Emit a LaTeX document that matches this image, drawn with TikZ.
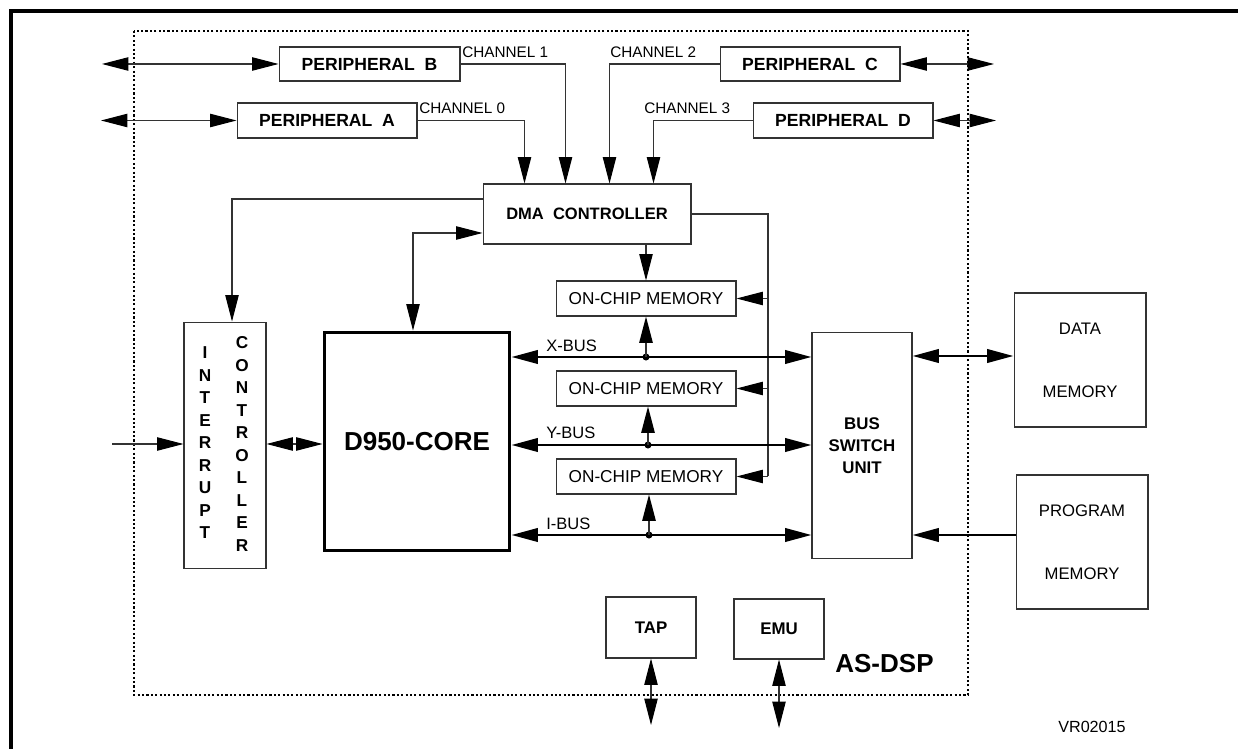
\documentclass[tikz,border=0pt]{standalone}
\usepackage{fontspec}
\setmainfont{Liberation Sans}
\usetikzlibrary{arrows.meta,calc}
\tikzset{
  sz/.style 2 args={minimum width=#1*0.569pt, minimum height=#2*0.569pt},
  blk/.style={draw=black!80, line width=0.6pt, inner sep=0pt, font=\fontsize{9.8}{11}\selectfont},
  bblk/.style={blk, font=\fontsize{9.6}{12.5}\selectfont\bfseries},
  pblk/.style={blk, font=\fontsize{10}{12}\selectfont\bfseries},
  lbl/.style={inner sep=0pt, font=\fontsize{8.7}{10}\selectfont},
  wire/.style={draw=black!80, line width=0.6pt},
  bus/.style={line width=1.5pt},
  tri/.style={-{Triangle[length=15pt,width=7.6pt,color=black]}},
  tritri/.style={{Triangle[length=15pt,width=7.6pt,color=black]}-{Triangle[length=15pt,width=7.6pt,color=black]}},
  dotbox/.style={line width=1.4pt, dash pattern=on 1.2pt off 1.3pt},
}
\begin{document}
\begin{tikzpicture}[x=0.02cm,y=-0.02cm]
\useasboundingbox (0,0) rectangle (1238,749);
\draw[line width=1.8pt] (11,749) -- (11,11) -- (1238,11);
\draw[dotbox] (134,31) rectangle (968,695);

% peripherals and channels
\node[pblk, sz={181}{34}] (perB) at (369.5,64) {PERIPHERAL~~B};
\node[pblk, sz={180}{35}] (perA) at (327,120.5) {PERIPHERAL~~A};
\node[pblk, sz={180}{34}] (perC) at (810,64) {PERIPHERAL~~C};
\node[pblk, sz={180}{35}] (perD) at (843,120.5) {PERIPHERAL~~D};
\node[pblk, sz={208}{60}, font=\fontsize{9.4}{11}\selectfont\bfseries] (dma) at (587,214) {DMA~~CONTROLLER\hspace{12pt}};

\node[lbl, anchor=base west] (ch0) at (419,114) {CHANNEL 0};
\node[lbl, anchor=base west] (ch1) at (462,58) {CHANNEL 1};
\node[lbl, anchor=base west] (ch2) at (610,58) {CHANNEL 2};
\node[lbl, anchor=base west] (ch3) at (644,114) {CHANNEL 3};

\draw[wire, tri] (perA.east) -| ($(dma.north west)+(42,0)$);
\draw[wire, tri] (perB.east) -| ($(dma.north west)+(83,0)$);
\draw[wire, tri] (perC.west) -| ($(dma.north west)+(127,0)$);
\draw[wire, tri] (perD.west) -| ($(dma.north west)+(171,0)$);

\coordinate (exB) at (102,64);
\coordinate (exA) at (101,120.5);
\coordinate (exC) at (994,64);
\coordinate (exD) at (996,120.5);
\draw[wire, tritri] (exB) -- (perB.west);
\draw[wire, tritri] (exA) -- (perA.west);
\draw[wire, tritri] (perC.east) -- (exC);
\draw[wire, tritri] (perD.east) -- (exD);

% core side
\node[draw, line width=1.7pt, inner sep=0pt, sz={186}{219}, font=\fontsize{14.8}{17}\selectfont\bfseries] (core) at (417,441.5) {D950-CORE};
\node[blk, sz={82}{247}] (intc) at (225,445.5) {};
\foreach \c [count=\i] in {I,N,T,E,R,R,U,P,T} {
  \pgfmathsetmacro\yy{353+22.5*(\i-1)}
  \node[lbl, font=\fontsize{9.8}{11}\selectfont\bfseries] (ia\i) at (205,\yy) {\c};
}
\foreach \c [count=\i] in {C,O,N,T,R,O,L,L,E,R} {
  \pgfmathsetmacro\yy{343+22.5*(\i-1)}
  \node[lbl, font=\fontsize{9.8}{11}\selectfont\bfseries] (ib\i) at (242,\yy) {\c};
}

\coordinate (irq) at (232,199);
\coordinate (cd) at (413,233);
\coordinate (irqin) at (112,444);
\draw[wire, tri] (dma.west |- irq) -| (intc.north -| irq);
\draw[wire, tritri] (core.north -| cd) |- (dma.west |- cd);
\draw[wire, tri] (irqin) -- (intc.west |- irqin);
\draw[wire, tritri] (intc.east |- irqin) -- (core.west |- irqin);

% memories and buses
\node[blk, sz={180}{35}] (ocm1) at (646,298.5) {ON-CHIP MEMORY};
\node[blk, sz={180}{35}] (ocm2) at (646,388.5) {ON-CHIP MEMORY};
\node[blk, sz={180}{35}] (ocm3) at (646,476.5) {ON-CHIP MEMORY};
\node[bblk, sz={100}{227}, align=center] (bsu) at (862,445.5) {BUS\\SWITCH\\UNIT};
\node[blk, sz={132}{134}, align=center, font=\fontsize{9.5}{11}\selectfont] (datam) at (1080,360) {DATA\\[25pt]MEMORY};
\node[blk, sz={132}{134}, align=center, font=\fontsize{9.5}{11}\selectfont] (progm) at (1082,542) {PROGRAM\\[25pt]MEMORY};

\draw[wire, tri] (dma.south -| ocm1.north) -- (ocm1.north);
\coordinate (rail) at (768,476.5);
\draw[wire] (dma.east) -| (rail);
\foreach \m in {ocm1,ocm2,ocm3}
  \draw[wire, tri] (\m.east -| rail) -- (\m.east);

\coordinate (xj) at (646,357);
\coordinate (yj) at (648,445);
\coordinate (ij) at (649,535);
\foreach \j/\m in {xj/ocm1,yj/ocm2,ij/ocm3} {
  \draw[bus, tritri] (core.east |- \j) -- (bsu.west |- \j);
  \fill (\j) circle (2pt);
  \draw[wire, line width=0.9pt, tri] (\j) -- (\j |- \m.south);
}
\node[lbl, anchor=west, font=\fontsize{9.4}{11}\selectfont] (xbl) at (546,346) {X-BUS};
\node[lbl, anchor=west, font=\fontsize{9.4}{11}\selectfont] (ybl) at (546,433) {Y-BUS};
\node[lbl, anchor=west, font=\fontsize{9.4}{11}\selectfont] (ibl) at (546,524) {I-BUS};

\coordinate (dj) at (0,356);
\draw[bus, line width=1.6pt, tritri] (bsu.east |- dj) -- (datam.west |- dj);
\draw[bus, line width=1.6pt, tri] (progm.west |- ij) -- (bsu.east |- ij);

% test access
\node[bblk, sz={90}{61}] (tap) at (651,627.5) {TAP};
\node[bblk, sz={90}{60}] (emu) at (779,629) {EMU};
\coordinate (tapout) at (651,725);
\coordinate (emuout) at (779,728);
\draw[wire, tritri] (tap.south) -- (tapout);
\draw[wire, tritri] (emu.south) -- (emuout);

\node[anchor=west, inner sep=0pt, font=\fontsize{14.8}{17}\selectfont\bfseries] (asdsp) at (835,664) {AS-DSP};
\node[lbl, font=\fontsize{9.2}{11}\selectfont] (vr) at (1092,727) {VR02015};
\end{tikzpicture}
\end{document}
